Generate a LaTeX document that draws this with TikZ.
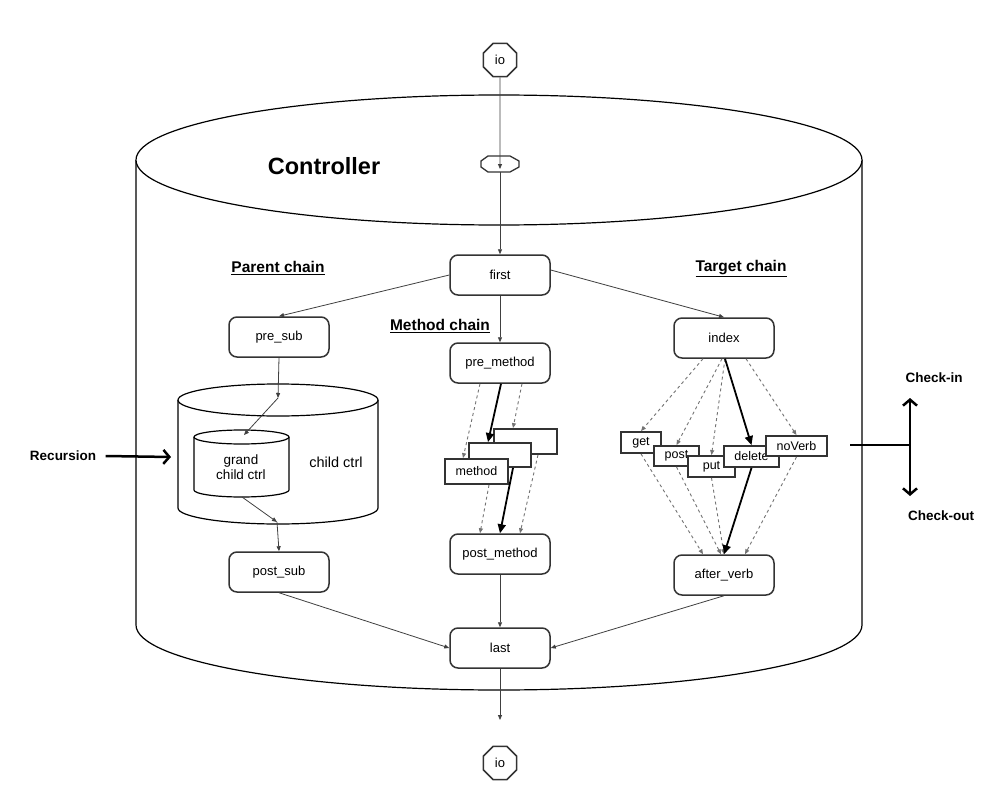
\documentclass[tikz,border=0pt]{standalone}
\usepackage{fontspec}
\setmainfont{Liberation Sans}
\usetikzlibrary{arrows.meta,shapes.geometric,calc}

\begin{document}
\begin{tikzpicture}[x=1pt,y=-1pt,
  every node/.style={font=\fontsize{13}{15}\selectfont},
  stage/.style={draw=black!80, line width=1.5pt, rounded corners=8pt,
    minimum width=100pt, minimum height=40pt, fill=white, inner sep=0pt},
  handler/.style={draw=black!80, line width=1.8pt, fill=white, inner sep=0pt,
    font=\fontsize{12.5}{14}\selectfont},
  port/.style={draw=black!80, line width=1.5pt, fill=white, regular polygon,
    regular polygon sides=8, minimum size=36pt, inner sep=0pt},
  conn/.style={draw=black!75, line width=0.8pt, -{Triangle[length=5pt,width=4pt]}},
  opt/.style={draw=black!55, line width=0.9pt, dash pattern=on 3pt off 3pt,
    -{Triangle[length=5pt,width=4pt]}},
  hot/.style={draw=black, line width=1.8pt, -{Triangle[length=9pt,width=8pt]}},
  bold/.style={line width=2.5pt, draw=black},
  heading/.style={font=\bfseries\fontsize{15.5}{18}\selectfont},
  side/.style={font=\bfseries\fontsize{13.5}{16}\selectfont},
  shell/.style={draw=black, line width=1.2pt}
]
\useasboundingbox (0,0) rectangle (1001,797);
\fill[white] (0,0) rectangle (1001,797);

% outer controller cylinder
\fill[white] (136,160) -- (136,625) arc[start angle=180,end angle=360,x radius=363pt,y radius=65pt] -- (862,160) -- cycle;
\draw[shell] (136,160) -- (136,625) arc[start angle=180,end angle=360,x radius=363pt,y radius=65pt] -- (862,160);
\draw[shell, fill=white] (499,160) ellipse[x radius=363pt, y radius=65pt];
\node[font=\bfseries\fontsize{23.5}{27}\selectfont] (title) at (324,166) {Controller};

% entry gate on the lid
\draw[black!80, line width=1.3pt, fill=white] (488,156) -- (510,156) -- (519,161) -- (519,167) -- (510,172) -- (488,172) -- (481,167) -- (481,161) -- cycle;
\coordinate (gate) at (500,169);
\coordinate (gatebot) at (500,172);

% io ports
\node[port] (iotop) at (500,60) {io};
\node[port] (iobot) at (500,763) {io};
\coordinate (exit) at (500,720);

% stages
\node[stage] (first) at (500,275) {first};
\node[stage] (presub) at (279,337) {pre\_sub};
\node[stage] (premethod) at (500,363) {pre\_method};
\node[stage] (index) at (724,338) {index};
\node[stage] (postsub) at (279,572) {post\_sub};
\node[stage] (postmethod) at (500,554) {post\_method};
\node[stage] (afterverb) at (724,575) {after\_verb};
\node[stage] (last) at (500,648) {last};

% chain headings
\node[heading] (hparent) at (278,268) {\underline{Parent chain}};
\node[heading] (hmethod) at (440,326) {\underline{Method chain}};
\node[heading] (htarget) at (741,269) {\underline{Target chain}};

% child controller cylinder
\draw[shell, fill=white] (178,400) -- (178,508) arc[start angle=180,end angle=360,x radius=100pt,y radius=16pt] -- (378,400);
\draw[shell, fill=white] (278,400) ellipse[x radius=100pt, y radius=16pt];
\node[font=\fontsize{14.5}{17}\selectfont] (childlbl) at (336,462) {child ctrl};
% grandchild cylinder
\draw[shell, fill=white] (194,437) -- (194,490) arc[start angle=180,end angle=360,x radius=47.5pt,y radius=7pt] -- (289,437);
\draw[shell, fill=white] (241.5,437) ellipse[x radius=47.5pt, y radius=7pt];
\node[align=center, font=\fontsize{13.5}{15}\selectfont] (gclbl) at (241,467) {grand\\child ctrl};
\coordinate (childtop) at (278,398);
\coordinate (gctop) at (244,435);
\coordinate (gcbot) at (242,497);
\coordinate (childbot) at (277,522);
\coordinate (childleft) at (171,457);

% method handlers
\node[handler, minimum width=63pt, minimum height=25pt] (mA) at (525.5,441.5) {};
\node[handler, minimum width=62pt, minimum height=24pt] (mB) at (500,455) {};
\node[handler, minimum width=63pt, minimum height=25pt] (mC) at (476.5,471.5) {method};

% verb handlers
\node[handler, minimum width=40pt, minimum height=21pt] (vget) at (641,442.5) {get};
\node[handler, minimum width=45pt, minimum height=20pt] (vpost) at (676.5,456) {post};
\node[handler, minimum width=47pt, minimum height=21pt] (vput) at (711.5,466.5) {put};
\node[handler, minimum width=55pt, minimum height=21pt] (vdelete) at (751.5,456.5) {delete};
\node[handler, minimum width=61pt, minimum height=20pt] (vnoverb) at (796.5,446) {noVerb};

% main flow
\draw[conn] (iotop.south) -- (gate);
\draw[conn] (gatebot) -- (first.north);
\draw[conn] (first.west) -- (presub.north);
\draw[conn] (first.south) -- (premethod.north);
\draw[conn] ([yshift=5pt]first.east) -- (index.north);
\draw[conn] (postsub.south) -- (last.west);
\draw[conn] (postmethod.south) -- (last.north);
\draw[conn] (afterverb.south) -- (last.east);
\draw[conn] (last.south) -- (exit);

% parent chain
\draw[conn] (presub.south) -- (childtop);
\draw[conn] (childtop) -- (gctop);
\draw[conn] (gcbot) -- (childbot);
\draw[conn] (childbot) -- (postsub.north);

% method chain
\draw[opt] ([xshift=-20pt]premethod.south) -- ([xshift=-13.5pt]mC.north);
\draw[hot] ([xshift=1pt]premethod.south) -- ([xshift=-12pt]mB.north);
\draw[opt] ([xshift=22pt]premethod.south) -- ([xshift=-12.5pt]mA.north);
\draw[opt] ([xshift=12.5pt]mC.south) -- ([xshift=-20pt]postmethod.north);
\draw[hot] ([xshift=13pt]mB.south) -- (postmethod.north);
\draw[opt] ([xshift=12.5pt]mA.south) -- ([xshift=20pt]postmethod.north);

% target chain
\draw[opt] ([xshift=-21pt]index.south) -- (vget.north);
\draw[opt] ([xshift=-2pt]index.south) -- (vpost.north);
\draw[opt] ([xshift=1pt]index.south) -- (vput.north);
\draw[hot] ([xshift=1pt]index.south) -- (vdelete.north);
\draw[opt] ([xshift=22pt]index.south) -- (vnoverb.north);
\draw[opt] (vget.south) -- ([xshift=-21pt]afterverb.north);
\draw[opt] (vpost.south) -- ([xshift=-3pt]afterverb.north);
\draw[opt] (vput.south) -- (afterverb.north);
\draw[hot] (vdelete.south) -- (afterverb.north);
\draw[opt] (vnoverb.south) -- ([xshift=21pt]afterverb.north);

% recursion entry
\node[side] (recursion) at (63,456) {Recursion};
\draw[bold, -{Straight Barb[length=6pt,width=14pt]}] ([xshift=6pt]recursion.east) -- (childleft);

% check-in / check-out
\node[side] (checkin) at (934,378) {Check-in};
\node[side] (checkout) at (941,516) {Check-out};
\coordinate (hub) at (910,445);
\coordinate (stub) at (850,445);
\coordinate (hubup) at (910,398);
\coordinate (hubdown) at (910,496);
\draw[bold] (stub) -- (hub);
\draw[bold, {Straight Barb[length=6pt,width=14pt]}-{Straight Barb[length=6pt,width=14pt]}] (hubup) -- (hubdown);
\end{tikzpicture}
\end{document}
